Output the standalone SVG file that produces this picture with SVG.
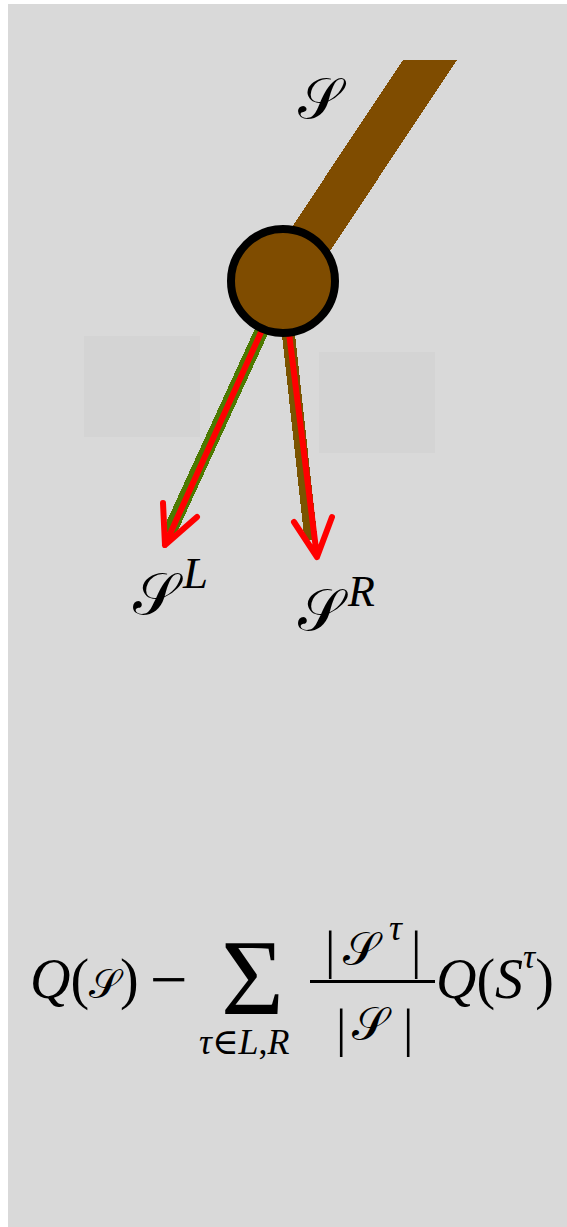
<svg xmlns="http://www.w3.org/2000/svg" width="567" height="1227" viewBox="0 0 567 1227">
  <style>
    .t { font-family: "Liberation Serif", "DejaVu Serif", serif; fill: #000; }
    .i { font-style: italic; }
    .cal { font-family: "DejaVu Serif", "DejaVu Sans", "Noto Sans", serif; font-style: normal; }
    .red { stroke: #ff0000; stroke-width: 6; stroke-linecap: round; stroke-linejoin: round; fill: none; }
  </style>

  <!-- canvas -->
  <rect x="0" y="0" width="567" height="1227" fill="#ffffff"/>
  <rect x="8" y="4" width="559" height="1223" fill="#d9d9d9"/>

  <!-- faint panels behind the branches -->
  <rect x="84" y="336" width="116" height="101" fill="#d4d4d4"/>
  <rect x="319" y="352" width="116" height="101" fill="#d4d4d4"/>

  <!-- incoming branch -->
  <g id="branch-in">
    <polygon points="403,60 457,60 310,281 256,281" fill="#7f4c00" shape-rendering="crispEdges"/>
  </g>

  <!-- split connectors -->
  <g id="connectors">
    <line x1="263" y1="328" x2="169" y2="533" stroke="#4c7a00" stroke-width="14" shape-rendering="crispEdges"/>
    <line x1="288" y1="330" x2="311" y2="540" stroke="#7a5400" stroke-width="13" shape-rendering="crispEdges"/>
    <path class="red" d="M262,330 L165,545 M163,503 L165,545 L197,517"/>
    <path class="red" d="M289,333 L317,557 M294,522 L317,557 L332,517"/>
  </g>

  <!-- split node -->
  <g id="node">
    <circle cx="283" cy="281" r="52" fill="#7f4c00" stroke="#000" stroke-width="8"/>
  </g>

  <!-- labels -->
  <g id="label-s">
    <text class="t cal" x="298" y="118" font-size="56">𝒮</text>
  </g>
  <g id="label-sl">
    <text class="t cal" x="133" y="614" font-size="58">𝒮</text>
    <text class="t i" x="183" y="588" font-size="45">L</text>
  </g>
  <g id="label-sr">
    <text class="t cal" x="298" y="630" font-size="58">𝒮</text>
    <text class="t i" x="348" y="606" font-size="44">R</text>
  </g>

  <!-- gain formula -->
  <g id="formula">
    <text class="t" x="30" y="998" font-size="56"><tspan class="i">Q</tspan>(<tspan class="cal" font-size="40">𝒮</tspan>)</text>
    <text class="t" x="150" y="1002" font-size="67">−</text>
    <text class="t" x="221" y="1014" font-size="108">Σ</text>
    <text class="t" x="199" y="1054" font-size="36"><tspan class="i">τ</tspan>∈<tspan class="i">L</tspan>,<tspan class="i">R</tspan></text>
    <text class="t" x="325" y="968" font-size="52">|</text>
    <text class="t cal" x="343" y="965" font-size="46">𝒮</text>
    <text class="t i" x="389" y="940" font-size="36">τ</text>
    <text class="t" x="411" y="968" font-size="52">|</text>
    <rect x="310" y="980" width="125" height="3" fill="#000"/>
    <text class="t" x="336" y="1046" font-size="52">|</text>
    <text class="t cal" x="352" y="1040" font-size="46">𝒮</text>
    <text class="t" x="403" y="1046" font-size="52">|</text>
    <text class="t" x="436" y="998" font-size="56"><tspan class="i">Q</tspan>(<tspan class="i">S</tspan><tspan class="i" font-size="34" dy="-30">τ</tspan><tspan dy="30">)</tspan></text>
  </g>
</svg>
